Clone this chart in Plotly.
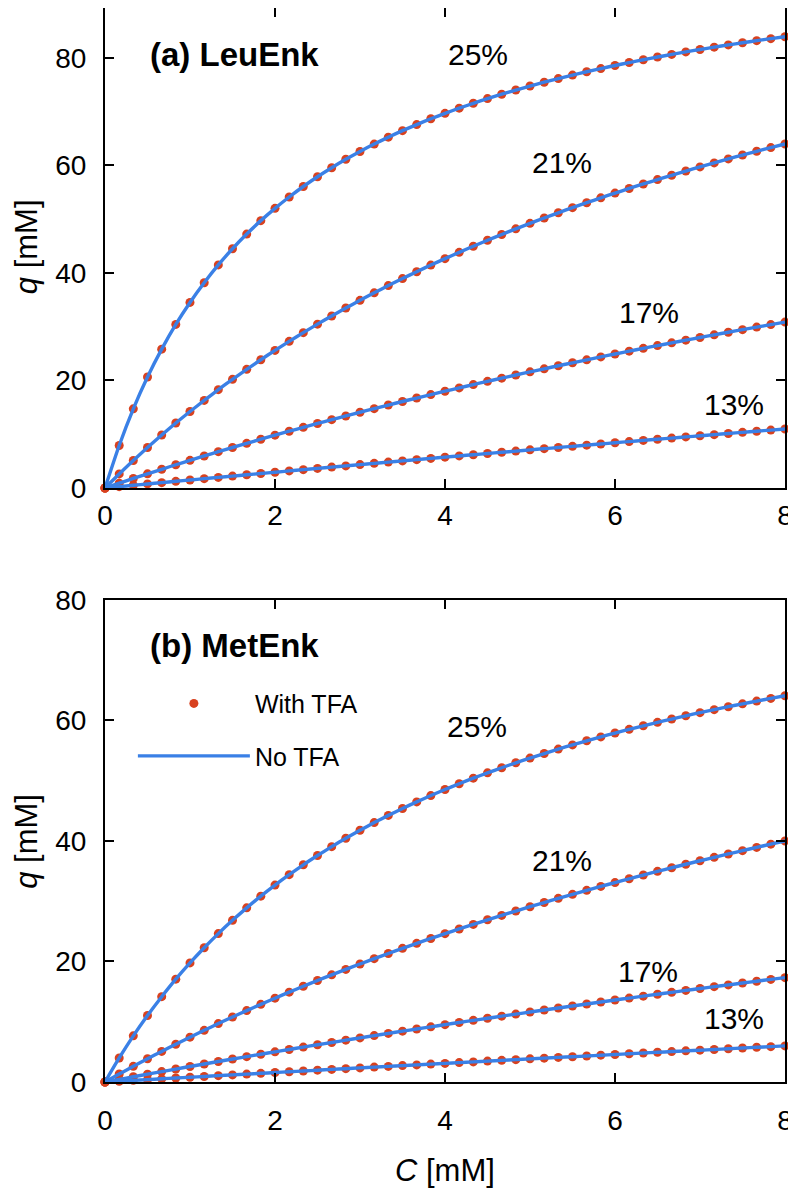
import plotly.graph_objects as go

# ---- data ----
C = [0, 0.167, 0.333, 0.5, 0.667, 0.833, 1, 1.167, 1.333, 1.5, 1.667, 1.833, 2,
     2.167, 2.333, 2.5, 2.667, 2.833, 3, 3.167, 3.333, 3.5, 3.667, 3.833, 4,
     4.167, 4.333, 4.5, 4.667, 4.833, 5, 5.167, 5.333, 5.5, 5.667, 5.833, 6,
     6.167, 6.333, 6.5, 6.667, 6.833, 7, 7.167, 7.333, 7.5, 7.667, 7.833, 8]

leu_25 = [0, 7.91, 14.72, 20.64, 25.83, 30.43, 34.52, 38.19, 41.50, 44.51, 47.24, 49.74, 52.03,
          54.14, 56.09, 57.90, 59.58, 61.15, 62.61, 63.98, 65.27, 66.48, 67.61, 68.69, 69.70,
          70.66, 71.57, 72.44, 73.26, 74.04, 74.78, 75.49, 76.17, 76.82, 77.44, 78.03, 78.60,
          79.15, 79.67, 80.18, 80.66, 81.13, 81.58, 82.01, 82.43, 82.83, 83.22, 83.60, 83.96]
leu_21 = [0, 2.61, 5.12, 7.53, 9.85, 12.08, 14.22, 16.29, 18.29, 20.21, 22.07, 23.86, 25.60,
          27.28, 28.90, 30.48, 32.00, 33.48, 34.91, 36.30, 37.65, 38.96, 40.23, 41.47, 42.67,
          43.84, 44.97, 46.08, 47.16, 48.21, 49.23, 50.23, 51.20, 52.15, 53.07, 53.98, 54.86,
          55.72, 56.56, 57.38, 58.18, 58.97, 59.73, 60.48, 61.22, 61.94, 62.64, 63.33, 64.00]
leu_17 = [0, 0.89, 1.77, 2.63, 3.48, 4.32, 5.14, 5.95, 6.75, 7.53, 8.31, 9.07, 9.82,
          10.56, 11.28, 12.00, 12.71, 13.40, 14.09, 14.76, 15.43, 16.09, 16.73, 17.37, 18.00,
          18.62, 19.23, 19.84, 20.43, 21.02, 21.60, 22.17, 22.74, 23.29, 23.84, 24.39, 24.92,
          25.45, 25.98, 26.49, 27.00, 27.50, 28.00, 28.49, 28.98, 29.46, 29.93, 30.40, 30.86]
leu_13 = [0, 0.25, 0.50, 0.75, 0.99, 1.24, 1.48, 1.73, 1.97, 2.21, 2.45, 2.69, 2.93,
          3.17, 3.41, 3.64, 3.88, 4.11, 4.35, 4.58, 4.81, 5.04, 5.27, 5.50, 5.73,
          5.96, 6.19, 6.41, 6.64, 6.86, 7.09, 7.31, 7.53, 7.75, 7.97, 8.19, 8.41,
          8.63, 8.85, 9.07, 9.28, 9.50, 9.71, 9.92, 10.14, 10.35, 10.56, 10.77, 10.98]

met_25 = [0, 3.99, 7.66, 11.04, 14.16, 17.07, 19.76, 22.28, 24.63, 26.83, 28.90, 30.85, 32.68,
          34.41, 36.05, 37.59, 39.06, 40.46, 41.78, 43.05, 44.25, 45.40, 46.49, 47.54, 48.54,
          49.51, 50.43, 51.31, 52.16, 52.98, 53.76, 54.52, 55.25, 55.95, 56.63, 57.28, 57.92,
          58.53, 59.12, 59.69, 60.24, 60.78, 61.30, 61.80, 62.29, 62.76, 63.22, 63.67, 64.10]
met_21 = [0, 1.32, 2.60, 3.86, 5.08, 6.27, 7.44, 8.58, 9.70, 10.79, 11.85, 12.89, 13.91,
          14.91, 15.89, 16.84, 17.78, 18.69, 19.59, 20.47, 21.33, 22.18, 23.01, 23.82, 24.62,
          25.40, 26.16, 26.92, 27.65, 28.38, 29.09, 29.79, 30.48, 31.15, 31.81, 32.46, 33.10,
          33.73, 34.35, 34.96, 35.56, 36.14, 36.72, 37.29, 37.85, 38.40, 38.94, 39.48, 40.00]
met_17 = [0, 0.44, 0.87, 1.30, 1.73, 2.15, 2.57, 2.99, 3.40, 3.81, 4.21, 4.61, 5.01,
          5.40, 5.79, 6.18, 6.56, 6.94, 7.32, 7.70, 8.07, 8.44, 8.80, 9.16, 9.52,
          9.88, 10.23, 10.58, 10.93, 11.27, 11.61, 11.95, 12.29, 12.62, 12.95, 13.28, 13.61,
          13.93, 14.25, 14.57, 14.88, 15.20, 15.51, 15.82, 16.12, 16.43, 16.73, 17.03, 17.32]
met_13 = [0, 0.13, 0.27, 0.40, 0.53, 0.66, 0.79, 0.92, 1.05, 1.18, 1.31, 1.44, 1.57,
          1.70, 1.83, 1.96, 2.09, 2.21, 2.34, 2.47, 2.59, 2.72, 2.84, 2.97, 3.09,
          3.22, 3.34, 3.47, 3.59, 3.71, 3.84, 3.96, 4.08, 4.20, 4.32, 4.45, 4.57,
          4.69, 4.81, 4.93, 5.05, 5.17, 5.28, 5.40, 5.52, 5.64, 5.76, 5.87, 5.99]

labels = ["25%", "21%", "17%", "13%"]
leu_series = [leu_25, leu_21, leu_17, leu_13]
met_series = [met_25, met_21, met_17, met_13]
leu_label_pos = [(4.39, 80.6), (5.38, 60.6), (6.40, 32.6), (7.40, 15.6)]
met_label_pos = [(4.38, 59.0), (5.38, 36.7), (6.39, 18.4), (7.40, 10.6)]

DOT = "#d8411f"
LINE = "#3a80e6"
FONT = "Liberation Sans, Arial, Helvetica, sans-serif"

fig = go.Figure()

panels = [("x", "y", leu_series), ("x2", "y2", met_series)]
first_dot = True
first_line = True
for xa, ya, series in panels:
    for q in series:
        fig.add_trace(go.Scatter(
            x=C, y=q, xaxis=xa, yaxis=ya, mode="markers",
            marker=dict(color=DOT, size=9),
            cliponaxis=False, name="With TFA", legendgroup="dots",
            showlegend=(xa == "x2" and first_dot)))
        if xa == "x2":
            first_dot = False
    for q in series:
        fig.add_trace(go.Scatter(
            x=C, y=q, xaxis=xa, yaxis=ya, mode="lines",
            line=dict(color=LINE, width=3.4, shape="spline", smoothing=0.6),
            name="No TFA", legendgroup="lines",
            showlegend=(xa == "x2" and first_line)))
        if xa == "x2":
            first_line = False

axis_common = dict(showline=True, linecolor="black", linewidth=2.2, mirror="ticks",
                   ticks="inside", ticklen=9, tickwidth=2.2, tickcolor="black",
                   showgrid=False, zeroline=False, automargin=False,
                   tickfont=dict(size=28, color="black", family=FONT))

# page has an 8 px body margin, so the figure is 8 px smaller each way
fig.update_layout(
    width=788, height=1180,
    margin=dict(l=97, r=11, t=0, b=106),
    plot_bgcolor="white", paper_bgcolor="white",
    font=dict(family=FONT, color="black"),
    xaxis=dict(domain=[0, 1], anchor="y", range=[0, 8], tickvals=[0, 2, 4, 6, 8],
               ticklabelstandoff=1, **axis_common),
    yaxis=dict(domain=[0.5531, 1], anchor="x", range=[0, 89.3],
               tickvals=[0, 20, 40, 60, 80], ticklabelstandoff=11, **axis_common),
    xaxis2=dict(domain=[0, 1], anchor="y2", range=[0, 8], tickvals=[0, 2, 4, 6, 8],
                ticklabelstandoff=12, **axis_common),
    yaxis2=dict(domain=[0, 0.4488], anchor="x2", range=[0, 80],
                tickvals=[0, 20, 40, 60, 80], ticklabelstandoff=11, **axis_common),
    legend=dict(x=0.041, y=0.3737, xanchor="left", yanchor="top",
                bgcolor="rgba(0,0,0,0)", font=dict(size=25, family=FONT),
                itemwidth=112, tracegroupgap=17),
)

ann = []
for (x, y), t in zip(leu_label_pos, labels):
    ann.append(dict(x=x, y=y, xref="x", yref="y", text=t, showarrow=False,
                    font=dict(size=30), xanchor="center", yanchor="middle"))
for (x, y), t in zip(met_label_pos, labels):
    ann.append(dict(x=x, y=y, xref="x2", yref="y2", text=t, showarrow=False,
                    font=dict(size=30), xanchor="center", yanchor="middle"))
ann.append(dict(x=0.506, y=80.6, xref="x", yref="y", text="<b>(a) LeuEnk</b>",
                showarrow=False, font=dict(size=33), xanchor="left", yanchor="middle"))
ann.append(dict(x=0.506, y=72.4, xref="x2", yref="y2", text="<b>(b) MetEnk</b>",
                showarrow=False, font=dict(size=33), xanchor="left", yanchor="middle"))
ann.append(dict(x=-0.115, y=0.778, xref="paper", yref="paper", text="<i>q</i> [mM]",
                showarrow=False, textangle=-90, font=dict(size=31),
                xanchor="center", yanchor="middle"))
ann.append(dict(x=-0.115, y=0.2244, xref="paper", yref="paper", text="<i>q</i> [mM]",
                showarrow=False, textangle=-90, font=dict(size=31),
                xanchor="center", yanchor="middle"))
ann.append(dict(x=0.5, y=-0.082, xref="paper", yref="paper", text="<i>C</i> [mM]",
                showarrow=False, font=dict(size=31), xanchor="center", yanchor="middle"))
fig.update_layout(annotations=ann)

fig.write_html("out.html")
